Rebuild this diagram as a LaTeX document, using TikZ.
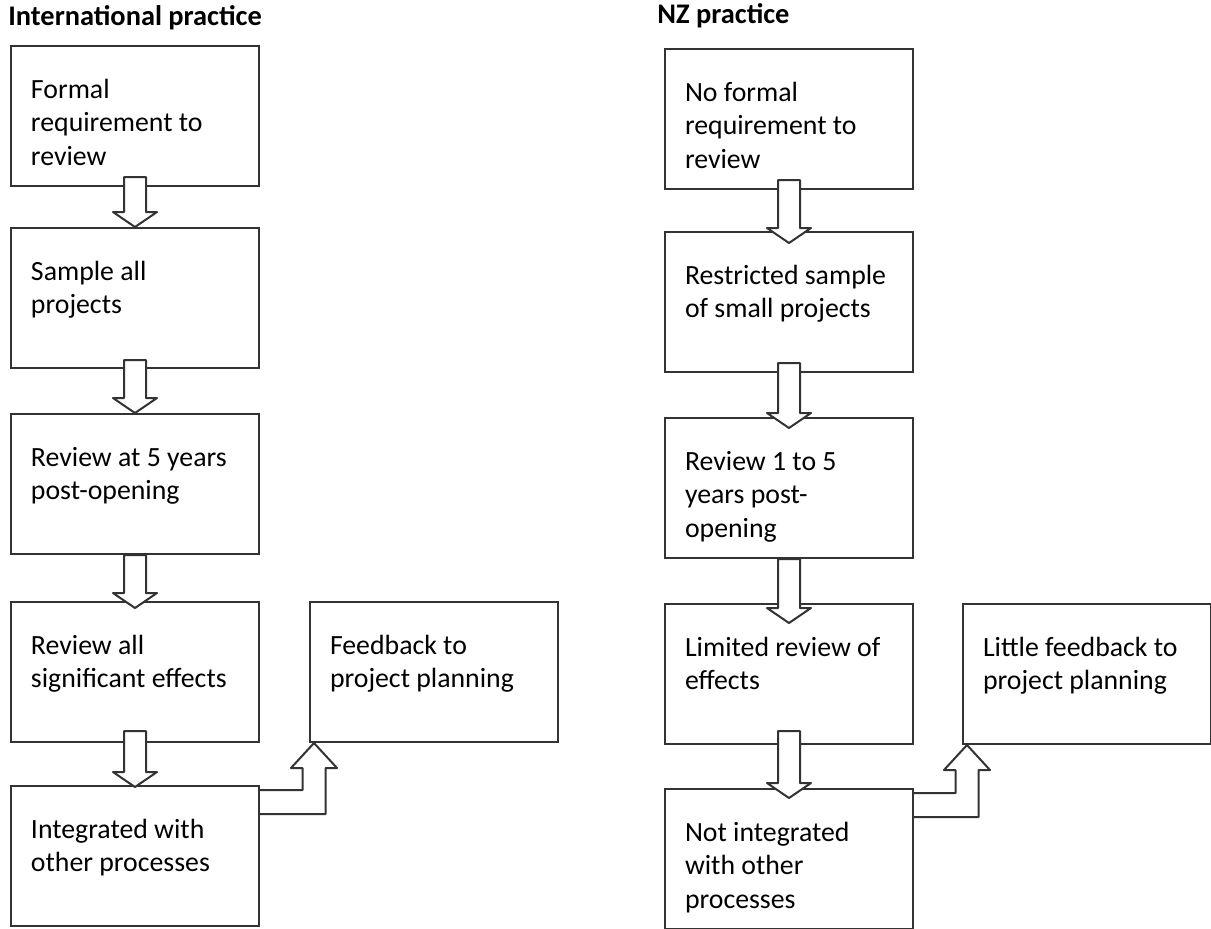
\documentclass[tikz,border=0pt]{standalone}
\usepackage{fontspec}
\setmainfont{Carlito}
\usetikzlibrary{calc}

% text of a box, hung from the top edge
\newcommand{\boxtext}[1]{\parbox[c][70pt][t]{104pt}{\raggedright\rule{0pt}{26pt}#1}}
% hollow arrow down: from, to, start inside from, overlap into to
\newcommand{\flowarrow}[4]{%
  \draw[blockarrow] ($(#1.south)+(-11,-#3)$) -- ($(#1.south |- #2.north)+(-11,#4-15)$)
    -- ++(-11,0) -- ($(#1.south |- #2.north)+(0,#4)$) -- ++(22,-15) -- ++(-11,0)
    -- ($(#1.south)+(11,-#3)$) -- cycle;}

\begin{document}
\begin{tikzpicture}[x=0.5pt, y=-0.5pt,
    font=\fontsize{13.9}{16.8}\selectfont,
    box/.style={draw=black!80, line width=1pt, anchor=north west, inner xsep=10pt, inner ysep=0pt},
    blockarrow/.style={draw=black!80, line width=1pt, fill=white, line join=round},
    heading/.style={anchor=base west, inner sep=0pt, font=\fontsize{14.2}{17}\selectfont\bfseries}]
  \useasboundingbox (0,0) rectangle (1211,928);

  % international practice
  \node[heading] (titleint) at (8,25) {International practice};
  \node[box] (i1) at (10,45) {\boxtext{Formal\\requirement to\\review}};
  \node[box] (i2) at (10,227) {\boxtext{Sample all\\projects}};
  \node[box] (i3) at (10,413) {\boxtext{Review at 5 years\\post-opening}};
  \node[box] (i4) at (10,601) {\boxtext{Review all\\significant effects}};
  \node[box] (i5) at (10,785) {\boxtext{Integrated with\\other processes}};
  \node[box] (ifb) at (309,601) {\boxtext{Feedback to\\project planning}};

  % NZ practice
  \node[heading] (titlenz) at (657,23) {NZ practice};
  \node[box] (n1) at (664,48) {\boxtext{No formal\\requirement to\\review}};
  \node[box] (n2) at (664,231) {\boxtext{Restricted sample\\of small projects}};
  \node[box] (n3) at (664,417) {\boxtext{Review 1 to 5\\years post-\\opening}};
  \node[box] (n4) at (664,603) {\boxtext{Limited review of\\effects}};
  \node[box] (n5) at (664,788) {\boxtext{Not integrated\\with other\\processes}};
  \node[box] (nfb) at (962,603) {\boxtext{Little feedback to\\project planning}};

  \foreach \a/\b/\s/\o in {i1/i2/10/0, i2/i3/9/0, i3/i4/0/7, i4/i5/12/2,
                           n1/n2/10/12, n2/n3/10/11, n3/n4/0/20, n4/n5/14/10}
    \flowarrow{\a}{\b}{\s}{\o};

  % bent arrows to the feedback boxes
  \foreach \a/\b in {i5/ifb, n5/nfb}
    \draw[blockarrow] ($(\a.north east)+(0,5)$) -| ($(\b.south west)+(-6.5,25)$) -- ++(-11.5,0)
      -- ($(\b.south west)+(5,0)$) -- ++(23,25) -- ++(-11.5,0) |- ($(\a.north east)+(0,29)$);
\end{tikzpicture}
\end{document}
